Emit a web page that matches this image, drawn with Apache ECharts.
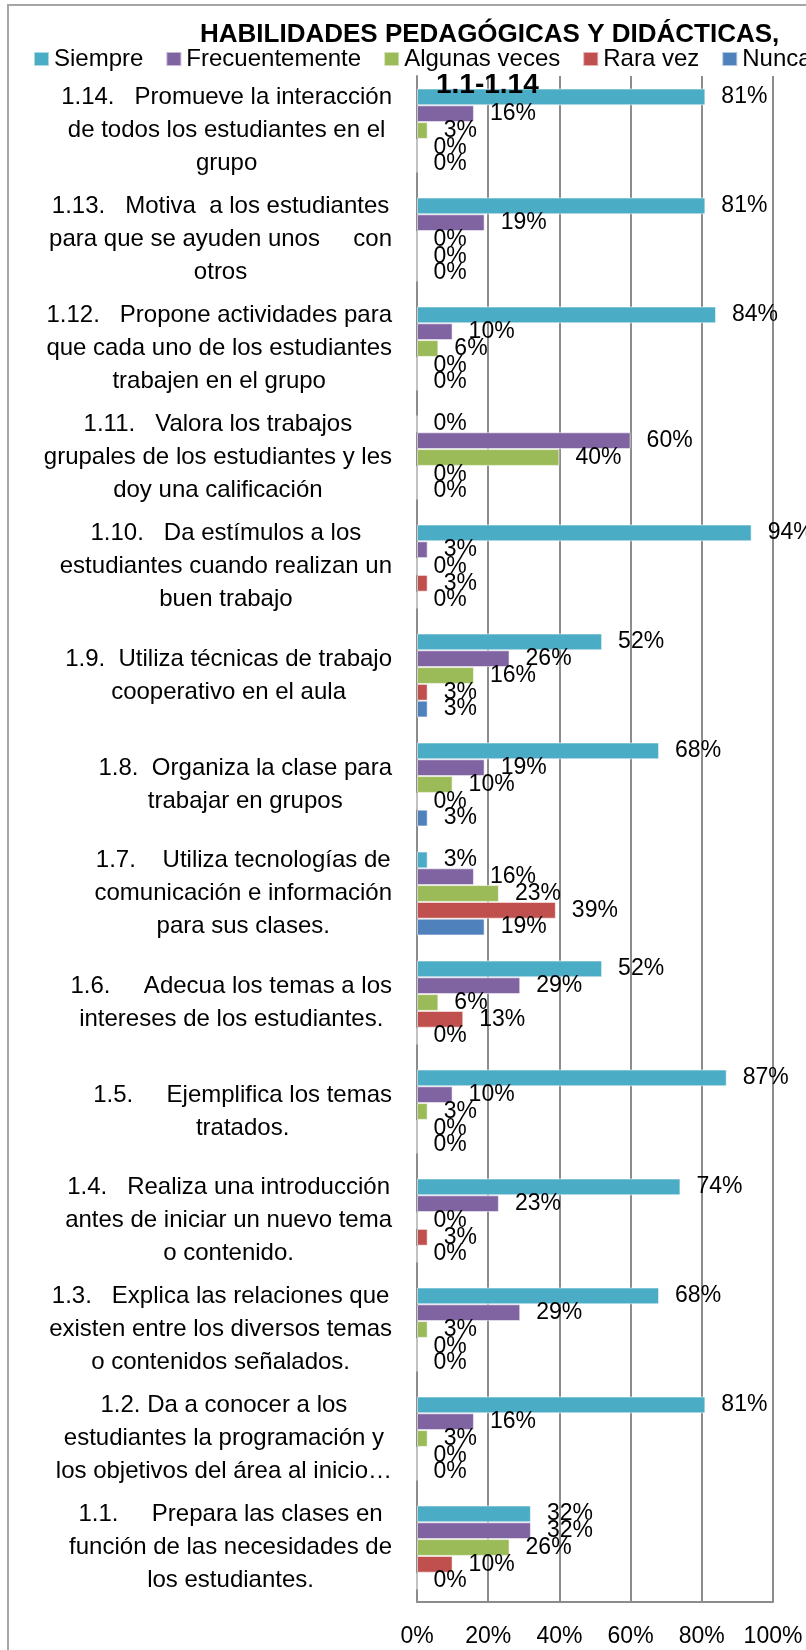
<!DOCTYPE html>
<html>
<head>
<meta charset="utf-8">
<script src="https://cdn.jsdelivr.net/npm/echarts@6/dist/echarts.min.js"></script>
<style>
  html, body { margin: 0; padding: 0; background: #fff; }
  #chart { width: 806px; height: 1650px; }
</style>
</head>
<body>
<div id="chart"></div>
<script>
// categorias, de arriba hacia abajo
var categorias = [
  '1.14.   Promueve la interacción\nde todos los estudiantes en el\ngrupo',
  '1.13.   Motiva  a los estudiantes\npara que se ayuden unos     con\notros',
  '1.12.   Propone actividades para\nque cada uno de los estudiantes\ntrabajen en el grupo',
  '1.11.   Valora los trabajos\ngrupales de los estudiantes y les\ndoy una calificación',
  '1.10.   Da estímulos a los\nestudiantes cuando realizan un\nbuen trabajo',
  '1.9.  Utiliza técnicas de trabajo\ncooperativo en el aula',
  '1.8.  Organiza la clase para\ntrabajar en grupos',
  '1.7.    Utiliza tecnologías de\ncomunicación e información\npara sus clases.',
  '1.6.     Adecua los temas a los\nintereses de los estudiantes.',
  '1.5.     Ejemplifica los temas\ntratados.',
  '1.4.   Realiza una introducción\nantes de iniciar un nuevo tema\no contenido.',
  '1.3.   Explica las relaciones que\nexisten entre los diversos temas\no contenidos señalados.',
  '1.2. Da a conocer a los\nestudiantes la programación y\nlos objetivos del área al inicio…',
  '1.1.     Prepara las clases en\nfunción de las necesidades de\nlos estudiantes.'
];

var siempre        = [81, 81, 84, 0, 94, 52, 68, 3, 52, 87, 74, 68, 81, 32];
var frecuentemente = [16, 19, 10, 60, 3, 26, 19, 16, 29, 10, 23, 29, 16, 32];
var algunasVeces   = [3, 0, 6, 40, 0, 16, 10, 23, 6, 3, 0, 3, 3, 26];
var raraVez        = [0, 0, 0, 0, 3, 3, 0, 39, 13, 0, 3, 0, 0, 10];
var nunca          = [0, 0, 0, 0, 0, 3, 3, 19, 0, 0, 0, 0, 0, 0];

var nombres = ['Siempre', 'Frecuentemente', 'Algunas veces', 'Rara vez', 'Nunca'];
var colores = ['#4BACC6', '#8064A2', '#9BBB59', '#C0504D', '#4F81BD'];
var ticksX = [0, 20, 40, 60, 80, 100];

var fuente = '"Liberation Sans", Arial, sans-serif';
var gris = '#8c8c8c';

function serie(nombre, datos, i) {
  return {
    name: nombre,
    type: 'bar',
    data: datos,
    barGap: '0%',
    barCategoryGap: '23%',
    itemStyle: {
      color: colores[i],
      borderColor: 'rgba(255,255,255,0.55)',
      borderWidth: 1
    },
    label: {
      show: true,
      position: 'right',
      distance: 16,
      formatter: '{c}%',
      color: '#000',
      fontSize: 23,
      fontFamily: fuente
    }
  };
}

var myChart = echarts.init(document.getElementById('chart'));
var option = {
  animation: false,
  backgroundColor: '#fff',
  title: [
    {
      text: 'HABILIDADES PEDAGÓGICAS Y DIDÁCTICAS,',
      left: 200, top: 19, padding: 0,
      textStyle: { fontFamily: fuente, fontSize: 26, fontWeight: 'bold', color: '#000', lineHeight: 31 }
    },
    {
      text: '1.1-1.14',
      left: 436, top: 69, padding: 0,
      textStyle: { fontFamily: fuente, fontSize: 28, fontWeight: 'bold', color: '#000', lineHeight: 32 }
    }
  ],
  legend: {
    data: nombres,
    left: 33, top: 47, padding: 0, width: 790,
    itemWidth: 15, itemHeight: 14, itemGap: 22,
    icon: 'rect',
    textStyle: { fontFamily: fuente, fontSize: 24, color: '#000' }
  },
  graphic: [{
    type: 'rect',
    shape: { x: 8, y: 5, width: 830, height: 1680 },
    style: { fill: 'none', stroke: '#a6a6a6', lineWidth: 2 },
    silent: true
  }],
  grid: { left: 417, right: 33, top: 76, bottom: 48, containLabel: false, outerBoundsMode: 'none' },
  xAxis: {
    type: 'value',
    min: 0, max: 100, interval: 20,
    axisLine: { show: true, lineStyle: { color: gris, width: 2 } },
    axisTick: { show: false },
    splitLine: { show: true, lineStyle: { color: gris, width: 2 } },
    axisLabel: {
      formatter: function (v) { return ticksX.indexOf(v) >= 0 ? v + '%' : ''; },
      fontFamily: fuente, fontSize: 23, color: '#000', margin: 23
    }
  },
  yAxis: {
    type: 'category',
    inverse: true,
    data: categorias,
    axisLine: { show: true, lineStyle: { color: gris, width: 2 } },
    axisTick: { show: false },
    splitLine: { show: false },
    axisLabel: {
      margin: 25,
      formatter: function (v) {
        return v.split('\n').map(function (l) { return '{c|' + l + '}'; }).join('\n');
      },
      rich: {
        c: { align: 'center', fontFamily: fuente, fontSize: 24, lineHeight: 33, color: '#000' }
      }
    }
  },
  series: [
    serie('Siempre', siempre, 0),
    serie('Frecuentemente', frecuentemente, 1),
    serie('Algunas veces', algunasVeces, 2),
    serie('Rara vez', raraVez, 3),
    serie('Nunca', nunca, 4)
  ]
};
myChart.setOption(option);
</script>
</body>
</html>
